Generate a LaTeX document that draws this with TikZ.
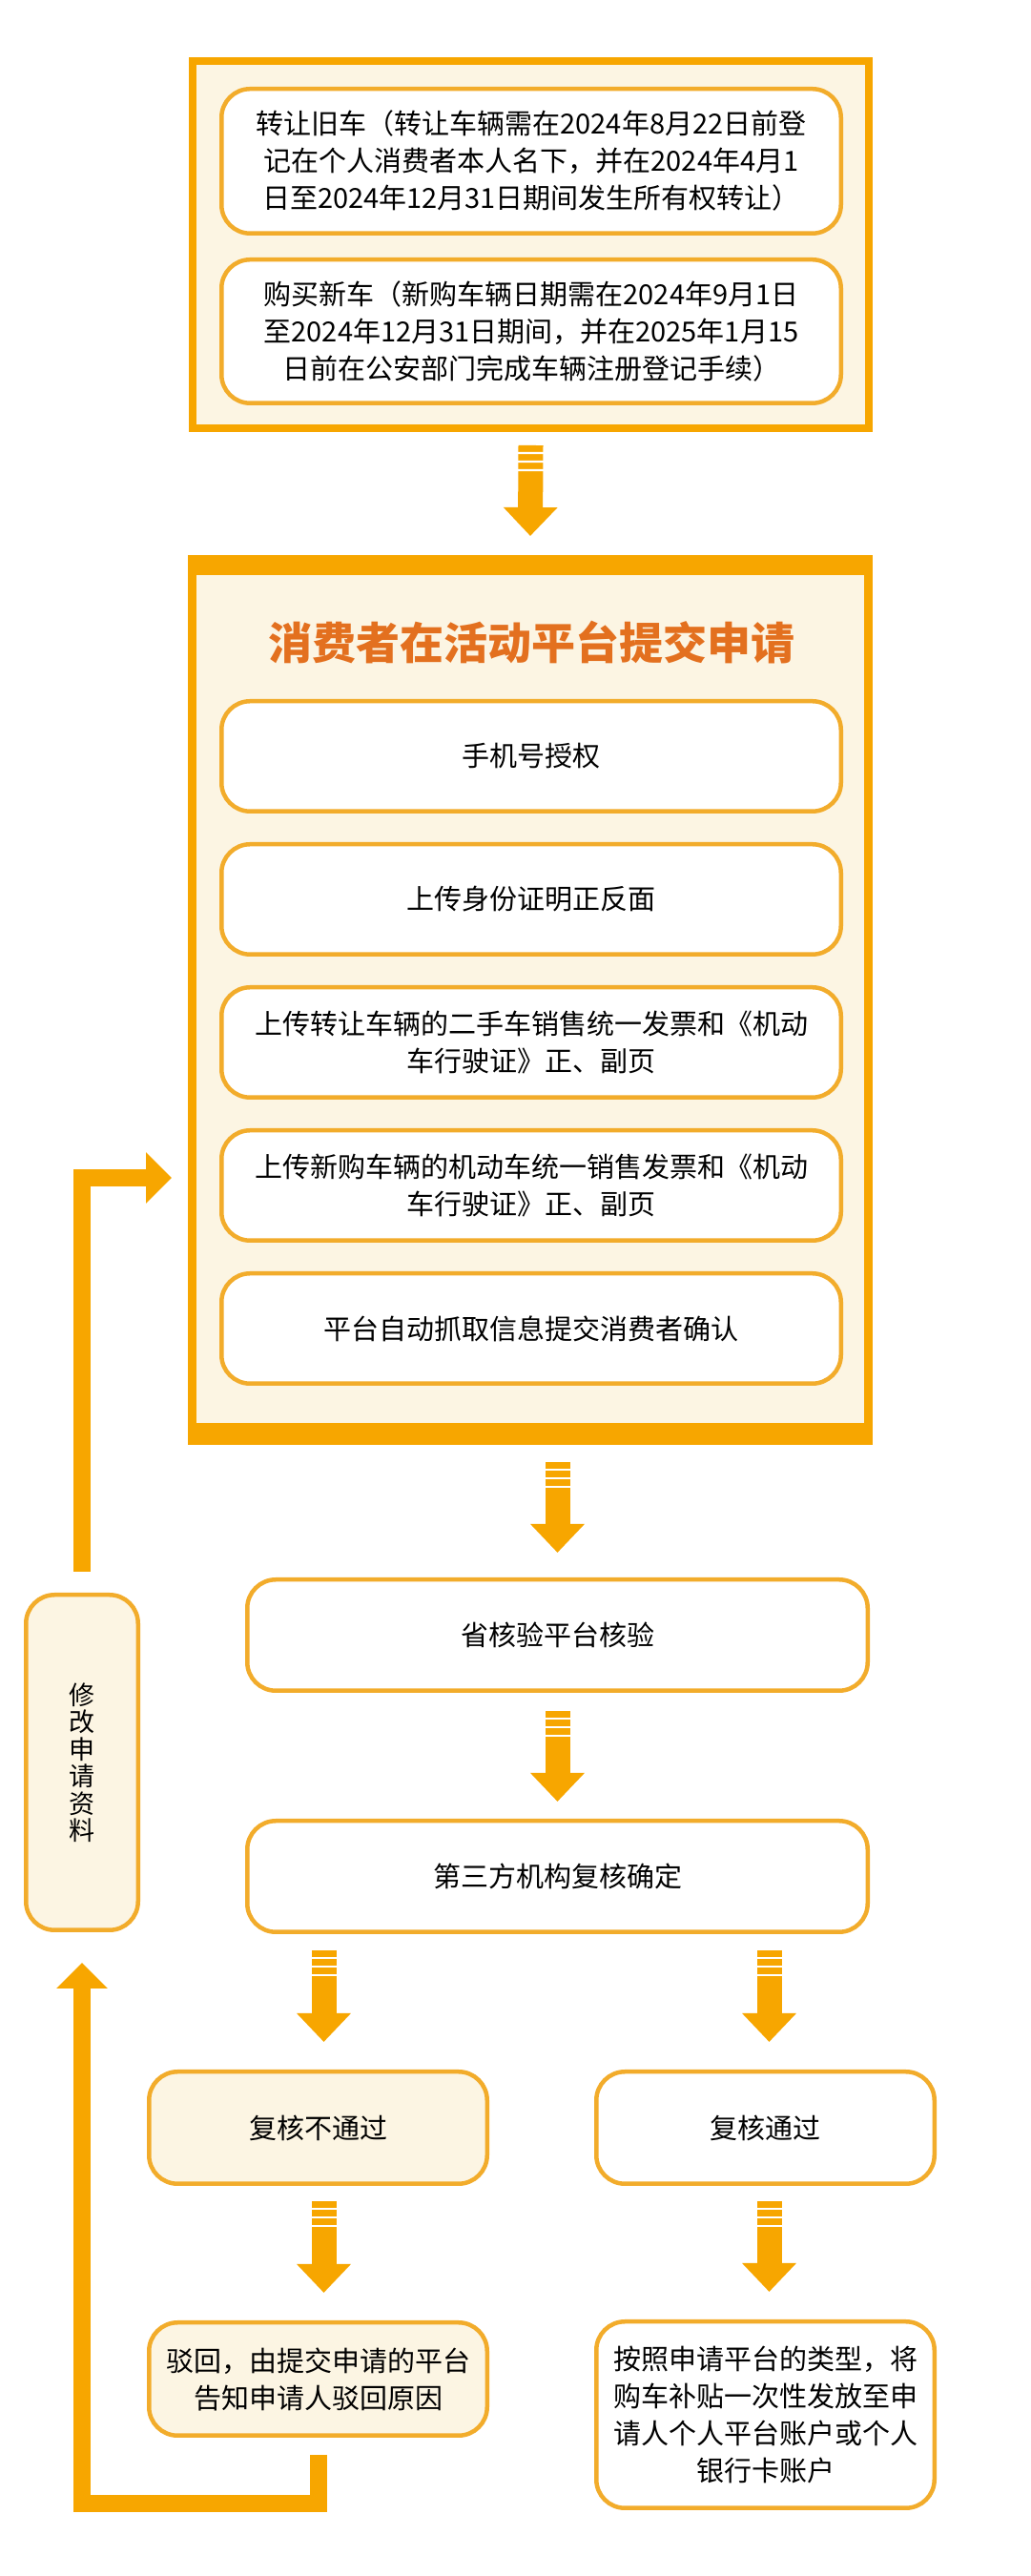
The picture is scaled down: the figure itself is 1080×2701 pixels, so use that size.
\documentclass[tikz,border=0pt]{standalone}
\usepackage{fontspec}
\setmainfont{Noto Sans CJK SC}
\usepackage{tikz}
\usetikzlibrary{positioning}
\usetikzlibrary{calc}
\usetikzlibrary{arrows.meta}
\usetikzlibrary{decorations.markings}

\definecolor{frameorange}{HTML}{F7A600}
\definecolor{boxorange}{HTML}{F2AC2B}
\definecolor{creamfill}{HTML}{FCF5E3}
\definecolor{titleorange}{HTML}{E3701F}

\begin{document}
\begin{tikzpicture}[x=1pt, y=1pt,
    frame/.style={draw=frameorange, fill=creamfill, inner sep=0pt},
    item/.style={draw=boxorange, line width=4.5pt, fill=white, rounded corners=30pt,
        align=center, inner sep=0pt, font=\fontsize{29}{39}\selectfont},
    stripe/.style={draw=white, line width=2.2pt, -},
    blockarrow/.style={draw=frameorange, line width=26pt, -{Triangle[width=55pt,length=30pt]},
        postaction={decorate, decoration={markings,
            mark=at position 8pt with {\draw[stripe] (0,-14pt) -- (0,14pt);},
            mark=at position 17pt with {\draw[stripe] (0,-14pt) -- (0,14pt);},
            mark=at position 26pt with {\draw[stripe] (0,-14pt) -- (0,14pt);}}}},
    loopline/.style={draw=frameorange, line width=18pt, -{Triangle[width=52pt,length=27pt]}}]

    \fill[white] (0,0) rectangle (1080,2701);
    \useasboundingbox (0,0) rectangle (1080,2701);

    % conditions
    \node[frame, line width=8pt, minimum width=709pt, minimum height=385pt] (f1) at (556.5,2444.5) {};
    \node[item, minimum width=649.5pt, minimum height=151.5pt] (a) at (557,2532)
        {转让旧车（转让车辆需在2024年8月22日前登\\记在个人消费者本人名下，并在2024年4月1\\日至2024年12月31日期间发生所有权转让）};
    \node[item, minimum width=649.5pt, minimum height=150.5pt, below=23pt of a] (b)
        {购买新车（新购车辆日期需在2024年9月1日\\至2024年12月31日期间，并在2025年1月15\\日前在公安部门完成车辆注册登记手续）};

    % application
    \node[frame, line width=9pt, minimum width=709pt, minimum height=924pt] (f2) at (556,1652.5) {};
    \fill[frameorange] (f2.north west) rectangle ($(f2.north east)+(0,-21)$);
    \fill[frameorange] ($(f2.south west)+(0,23)$) rectangle (f2.south east);
    \node[text=titleorange, font=\fontsize{46}{46}\selectfont\bfseries] (t) at (557,2027) {消费者在活动平台提交申请};
    \node[item, minimum width=649.5pt, minimum height=115.5pt] (c1) at (557,1908) {手机号授权};
    \node[item, minimum width=649.5pt, minimum height=115.5pt, below=30pt of c1] (c2) {上传身份证明正反面};
    \node[item, minimum width=649.5pt, minimum height=115.5pt, below=30pt of c2] (c3)
        {上传转让车辆的二手车销售统一发票和《机动\\车行驶证》正、副页};
    \node[item, minimum width=649.5pt, minimum height=115.5pt, below=30pt of c3] (c4)
        {上传新购车辆的机动车统一销售发票和《机动\\车行驶证》正、副页};
    \node[item, minimum width=649.5pt, minimum height=115.5pt, below=30pt of c4] (c5) {平台自动抓取信息提交消费者确认};

    % checks
    \node[item, minimum width=650.5pt, minimum height=116.5pt] (d) at (584.5,986.5) {省核验平台核验};
    \node[item, minimum width=650.5pt, minimum height=116.5pt, below=132pt of d] (e) {第三方机构复核确定};

    \node[item, fill=creamfill, minimum width=354.5pt, minimum height=117.5pt] (no) at (333.5,470) {复核不通过};
    \node[item, minimum width=354.5pt, minimum height=117.5pt, right=110pt of no] (yes) {复核通过};
    \node[item, fill=creamfill, minimum width=354.5pt, minimum height=118.5pt, below=141pt of no] (back)
        {驳回，由提交申请的平台\\告知申请人驳回原因};
    \node[item, minimum width=354.5pt, minimum height=195.5pt, below=140pt of yes] (pay)
        {按照申请平台的类型，将\\购车补贴一次性发放至申\\请人个人平台账户或个人\\银行卡账户};

    \node[item, fill=creamfill, minimum width=117.5pt, minimum height=351.5pt,
        font=\fontsize{27}{28.5}\selectfont] (fix) at (86,853) {修\\改\\申\\请\\资\\料};

    \draw[blockarrow] ($(f1.south)+(0,-14)$) -- ($(f2.north)+(0,20)$);
    \draw[blockarrow] ($(f2.south -| d.north)+(0,-18)$) -- ($(d.north)+(0,26)$);
    \draw[blockarrow] ($(d.south)+(0,-19)$) -- ($(e.north)+(0,18)$);
    \draw[blockarrow] ($(e.south -| no.north)+(6,-17)$) -- ($(no.north)+(6,29)$);
    \draw[blockarrow] ($(e.south -| yes.north)+(4,-17)$) -- ($(yes.north)+(4,29)$);
    \draw[blockarrow] ($(no.south)+(6,-16)$) -- ($(back.north)+(6,29)$);
    \draw[blockarrow] ($(yes.south)+(4,-16)$) -- ($(pay.north)+(4,29)$);

    \draw[loopline] ($(back.south)+(0,-18)$) -- ++(0,-51) -| ($(fix.south)+(0,-32)$);
    \draw[loopline] ($(fix.north)+(0,22)$) |- ($(f2.west |- c4)+(-17,8)$);

\end{tikzpicture}
\end{document}
